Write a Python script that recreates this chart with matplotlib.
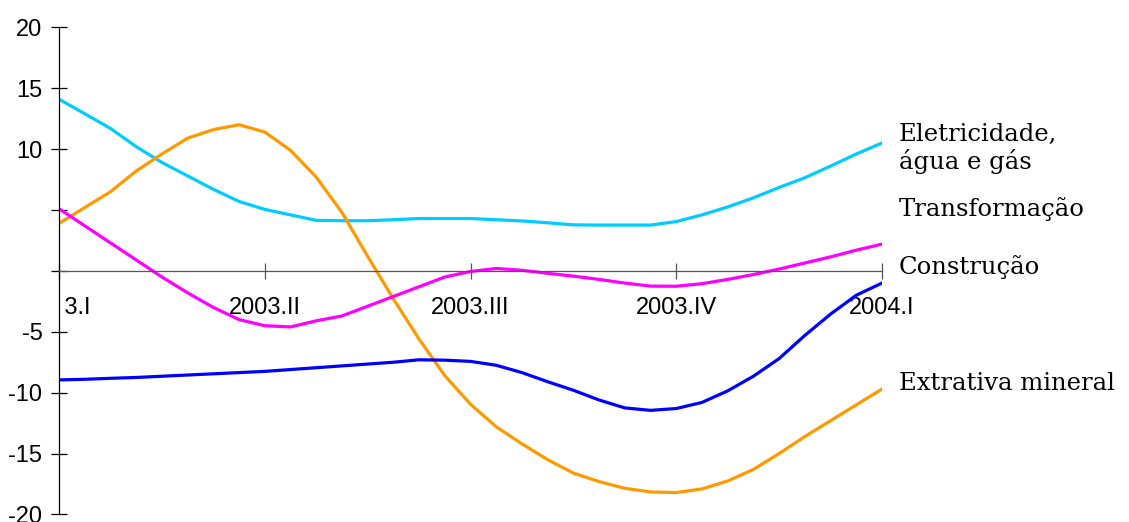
import numpy as np
import matplotlib
matplotlib.use("Agg")
import matplotlib.pyplot as plt
from matplotlib.patches import Rectangle

# quarters: 2003.I .. 2004.I, sampled every eighth of a quarter
quarters = np.arange(0, 4.001, 0.125)
quarter_labels = ["2003.I", "2003.II", "2003.III", "2003.IV", "2004.I"]

eletricidade = [14.1, 12.9, 11.7, 10.2, 8.9, 7.8, 6.7, 5.7, 5.05, 4.6, 4.15, 4.12, 4.12,
                4.2, 4.3, 4.3, 4.3, 4.2, 4.1, 3.95, 3.78, 3.76, 3.76, 3.76, 4.05, 4.6,
                5.25, 6.0, 6.85, 7.65, 8.6, 9.6, 10.5]
transformacao = [3.9, 5.2, 6.5, 8.2, 9.6, 10.9, 11.6, 12.0, 11.4, 9.9, 7.7, 4.8, 1.2,
                 -2.3, -5.6, -8.6, -10.95, -12.8, -14.2, -15.5, -16.6, -17.3, -17.85,
                 -18.15, -18.2, -17.9, -17.25, -16.3, -15.0, -13.6, -12.3, -11.0, -9.7]
construcao = [5.1, 3.7, 2.3, 0.9, -0.5, -1.8, -3.0, -4.0, -4.5, -4.6, -4.1, -3.7, -2.9,
              -2.1, -1.3, -0.5, -0.05, 0.2, 0.05, -0.2, -0.43, -0.7, -1.0, -1.25, -1.26,
              -1.05, -0.7, -0.3, 0.15, 0.65, 1.15, 1.7, 2.2]
extrativa = [-8.95, -8.9, -8.82, -8.75, -8.65, -8.55, -8.45, -8.35, -8.25, -8.1, -7.95,
             -7.8, -7.65, -7.5, -7.3, -7.33, -7.43, -7.75, -8.35, -9.1, -9.8, -10.6,
             -11.25, -11.45, -11.3, -10.8, -9.85, -8.65, -7.2, -5.3, -3.55, -2.0, -1.0]

fig = plt.figure(figsize=(11.29, 5.22), dpi=100)
ax = fig.add_axes([0.0523, 0.0144, 0.7289, 0.9333])

ax.plot(quarters, eletricidade, color="#00CCFF", lw=2.3)
ax.plot(quarters, transformacao, color="#FF9900", lw=2.3)
ax.plot(quarters, construcao, color="#FF00FF", lw=2.3)
ax.plot(quarters, extrativa, color="#0000FF", lw=2.3)

ax.set_xlim(0, 4)
ax.set_ylim(-20, 20)

ax.spines["top"].set_visible(False)
ax.spines["right"].set_visible(False)
ax.spines["bottom"].set_position(("data", 0))
ax.spines["bottom"].set_color("#555555")
ax.spines["left"].set_linewidth(0.9)
ax.spines["bottom"].set_linewidth(0.9)

ax.set_yticks([-20, -15, -10, -5, 0, 5, 10, 15, 20])
ax.set_yticklabels(["-20", "-15", "-10", "-5", "", "", "10", "15", "20"])
ax.set_xticks(range(5))
ax.set_xticklabels(quarter_labels)
ax.tick_params(axis="y", direction="inout", length=11, width=0.9, pad=6.5,
               labelsize=17, labelfontfamily="Liberation Sans")
ax.tick_params(axis="x", direction="inout", length=12, width=0.9, pad=13,
               color="#555555", labelsize=17, labelfontfamily="Liberation Sans")

# first category label is cut off by the value axis
first = ax.xaxis.get_major_ticks()[0].label1
first.set_clip_on(True)
first.set_clip_path(Rectangle((0.058, 0), 1, 1, transform=fig.transFigure))

serif = dict(family="DejaVu Serif", fontsize=17.5, va="baseline", ha="left",
             clip_on=False)
ax.text(4.083, 10.7, "Eletricidade,", **serif)
t = ax.text(4.083, 8.39, "água e gás", **serif)
t.set_clip_path(Rectangle((0.75, 0.6705), 0.25, 0.1, transform=fig.transFigure))
ax.text(4.083, 4.5, "Transformação", **serif)
ax.text(4.083, -0.29, "Construção", **serif)
ax.text(4.083, -9.79, "Extrativa mineral", **serif)

fig.savefig("out.png", dpi=100)
